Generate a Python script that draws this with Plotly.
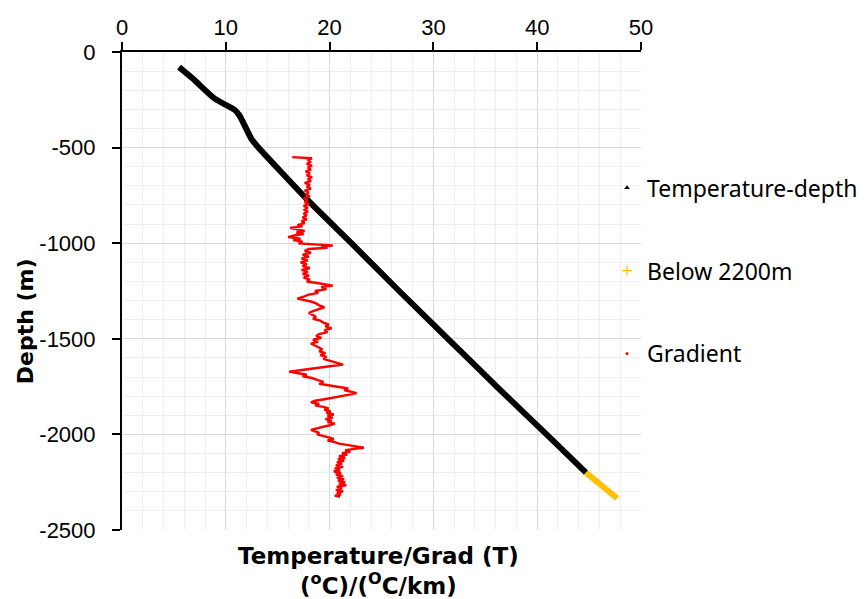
import plotly.graph_objects as go

# Temperature log (depth in m, temperature in degC)
temp_depth = [-79, -140, -244, -302, -332, -453, -488, -775, -1000, -1250, -1500, -1750, -2000, -2200]
temp_value = [5.5, 6.84, 8.93, 10.84, 11.32, 12.45, 12.95, 17.9, 22.1, 26.7, 31.4, 36.1, 40.9, 44.7]

# Deepest section of the log
deep_depth = [-2200, -2334]
deep_value = [44.7, 47.7]

# Geothermal gradient (degC/km) against depth
grad_depth = [
    -550, -553, -556, -565, -575, -585, -595, -605, -615, -625, -635, -645, -655, -665, -675,
    -685, -695, -705, -715, -725, -735, -745, -755, -765, -775, -785, -795, -805, -815, -825,
    -835, -845, -855, -865, -875, -885, -895, -905, -912, -920, -928, -936, -944, -952, -960,
    -968, -976, -984, -992, -1000, -1006, -1012, -1018, -1024, -1030, -1040, -1050, -1060,
    -1070, -1080, -1090, -1100, -1110, -1120, -1130, -1140, -1150, -1160, -1170, -1180, -1190,
    -1200, -1208, -1215, -1222, -1230, -1240, -1250, -1260, -1270, -1280, -1290, -1297, -1305,
    -1315, -1325, -1335, -1345, -1355, -1365, -1375, -1385, -1395, -1405, -1415, -1425, -1435,
    -1445, -1455, -1465, -1475, -1485, -1495, -1505, -1515, -1525, -1535, -1545, -1555, -1565,
    -1575, -1585, -1595, -1605, -1615, -1625, -1635, -1642, -1650, -1658, -1665, -1672, -1680,
    -1688, -1696, -1705, -1715, -1725, -1735, -1745, -1752, -1760, -1768, -1776, -1784, -1792,
    -1800, -1808, -1816, -1824, -1832, -1840, -1848, -1856, -1864, -1872, -1880, -1888, -1896,
    -1904, -1912, -1920, -1928, -1936, -1944, -1952, -1960, -1968, -1976, -1984, -1992, -2000,
    -2008, -2016, -2024, -2032, -2040, -2048, -2056, -2064, -2070, -2076, -2082, -2090, -2098,
    -2106, -2114, -2122, -2130, -2138, -2146, -2154, -2162, -2170, -2178, -2186, -2194, -2202,
    -2210, -2218, -2226, -2234, -2242, -2250, -2258, -2266, -2274, -2282, -2290, -2298, -2306,
    -2314, -2320, -2326,
]
grad_value = [
    16.4, 17.6, 18.3, 17.9, 18.2, 17.8, 18.3, 17.9, 18.2, 17.7, 18.1, 17.8, 18.3, 17.9, 18.2,
    17.6, 18.1, 17.8, 18.2, 17.6, 18.0, 17.7, 18.1, 17.5, 17.9, 17.6, 18.0, 17.5, 17.9, 17.6,
    17.9, 17.5, 17.8, 17.4, 17.8, 17.3, 17.6, 16.9, 17.4, 16.2, 17.0, 17.6, 16.8, 17.5, 16.6,
    16.0, 17.2, 16.5, 17.4, 17.0, 18.5, 20.3, 19.2, 19.8, 18.0, 17.6, 18.2, 17.4,
    18.0, 17.3, 17.9, 17.2, 17.8, 17.4, 18.1, 17.3, 17.9, 17.4, 18.0, 17.5, 18.1,
    17.8, 18.8, 19.8, 20.3, 19.2, 19.7, 18.6, 18.9, 17.9, 17.5, 16.9, 17.6, 18.2,
    18.7, 19.0, 19.5, 18.9, 18.4, 18.0, 18.3, 18.7, 18.4, 19.1, 19.4, 19.9, 19.6,
    20.2, 19.5, 19.8, 19.0, 18.7, 19.2, 18.4, 18.9, 18.2, 18.6, 18.9, 19.3, 19.0,
    19.6, 19.1, 19.7, 19.4, 20.0, 20.5, 21.3, 20.2, 19.0, 17.8, 16.6, 16.1, 17.0,
    17.8, 17.4, 18.3, 18.8, 19.4, 19.0, 20.2, 21.3, 21.8, 21.4, 22.0, 22.6, 21.9,
    21.2, 20.4, 19.5, 18.6, 18.2, 19.0, 18.6, 19.4, 19.9, 19.5, 20.1, 19.7, 20.4,
    19.8, 20.3, 19.6, 20.2, 19.8, 20.5, 20.0, 19.3, 18.6, 18.2, 18.6, 19.0, 18.8,
    19.5, 19.9, 20.4, 19.8, 20.5, 20.9, 21.8, 22.5, 23.3, 22.4, 21.5, 22.0, 21.2,
    21.7, 20.9, 21.5, 20.8, 21.4, 20.7, 21.2, 20.6, 21.3, 20.5, 21.0, 20.4, 21.1,
    20.6, 21.3, 20.7, 21.4, 20.8, 21.5, 20.9, 21.6, 20.7, 21.2, 20.6, 21.3, 20.7,
    21.1, 20.5, 21.0,
]

series_names = ["Temperature-depth", "Below 2200m", "Gradient"]

# Axis ticks
x_tick_vals = [0, 10, 20, 30, 40, 50]
y_tick_vals = [0, -500, -1000, -1500, -2000, -2500]
y_tick_text = ["0", "-500", "-1000", "-1500", "-2000", "-2500"]

BLACK = "#000000"
GOLD = "#FFC000"
RED = "#FF0000"

fig = go.Figure()

# Data curves (legend entries are drawn separately with small markers)
fig.add_trace(go.Scatter(x=temp_value, y=temp_depth, mode="lines",
                         line=dict(color=BLACK, width=6, shape="spline", smoothing=0.6),
                         showlegend=False))
fig.add_trace(go.Scatter(x=deep_value, y=deep_depth, mode="lines",
                         line=dict(color=GOLD, width=6), showlegend=False))
fig.add_trace(go.Scatter(x=grad_value, y=grad_depth, mode="lines",
                         line=dict(color=RED, width=2.4), showlegend=False))

# Legend entries with small point symbols
legend_symbols = [
    dict(symbol="triangle-up", size=5, color=BLACK),
    dict(symbol="cross-thin", size=7, color=GOLD, line=dict(color=GOLD, width=1.2)),
    dict(symbol="circle", size=3, color=RED),
]
for i, (name, sym) in enumerate(zip(series_names, legend_symbols)):
    fig.add_trace(go.Scatter(x=[None], y=[None], mode="markers", name=name,
                             marker=sym, legendgroup=f"g{i}", showlegend=True))

tick_font = dict(family="Liberation Sans, Arial, sans-serif", size=22, color=BLACK)
xtitle_font = dict(family="DejaVu Sans, sans-serif", size=23, color=BLACK, weight="bold")
ytitle_font = dict(family="DejaVu Sans, sans-serif", size=22, color=BLACK, weight="bold")

fig.update_layout(
    width=868, height=599,
    margin=dict(l=122, r=227, t=52, b=69, autoexpand=False),
    paper_bgcolor="white", plot_bgcolor="white",
    showlegend=True,
    legend=dict(
        x=0.9345, xanchor="left", xref="paper",
        y=0.761, yanchor="top",
        font=dict(family="Noto Sans, sans-serif", size=23, color=BLACK),
        tracegroupgap=50, bgcolor="rgba(0,0,0,0)",
        itemwidth=30,
    ),
    xaxis=dict(
        side="top", range=[0, 50],
        tickmode="array", tickvals=x_tick_vals,
        showline=True, linecolor=BLACK, linewidth=2,
        ticks="outside", ticklen=8, tickwidth=2, tickcolor=BLACK,
        ticklabelstandoff=-2,
        showgrid=True, gridcolor="#d9d9d9", gridwidth=1,
        minor=dict(dtick=2, showgrid=True, gridcolor="#eeeeee", gridwidth=1),
        zeroline=False, tickfont=tick_font,
    ),
    yaxis=dict(
        range=[-2500, 0],
        tickmode="array", tickvals=y_tick_vals, ticktext=y_tick_text,
        showline=True, linecolor=BLACK, linewidth=2,
        ticks="outside", ticklen=8, tickwidth=2, tickcolor=BLACK,
        ticklabelstandoff=12,
        showgrid=True, gridcolor="#d9d9d9", gridwidth=1,
        minor=dict(dtick=100, showgrid=True, gridcolor="#eeeeee", gridwidth=1),
        zeroline=False, tickfont=tick_font,
    ),
    annotations=[
        dict(
            text="Temperature/Grad (T)<br>(<sup>o</sup>C)/(<sup>O</sup>C/km)",
            xref="paper", yref="paper", x=0.494, y=-0.022,
            xanchor="center", yanchor="top", showarrow=False,
            font=xtitle_font, align="center",
        ),
        dict(
            text="Depth (m)", textangle=-90,
            xref="paper", yref="paper", x=-0.1869, y=0.4368,
            xanchor="center", yanchor="middle", showarrow=False,
            font=ytitle_font,
        ),
    ],
)

fig.write_html("out.html")
